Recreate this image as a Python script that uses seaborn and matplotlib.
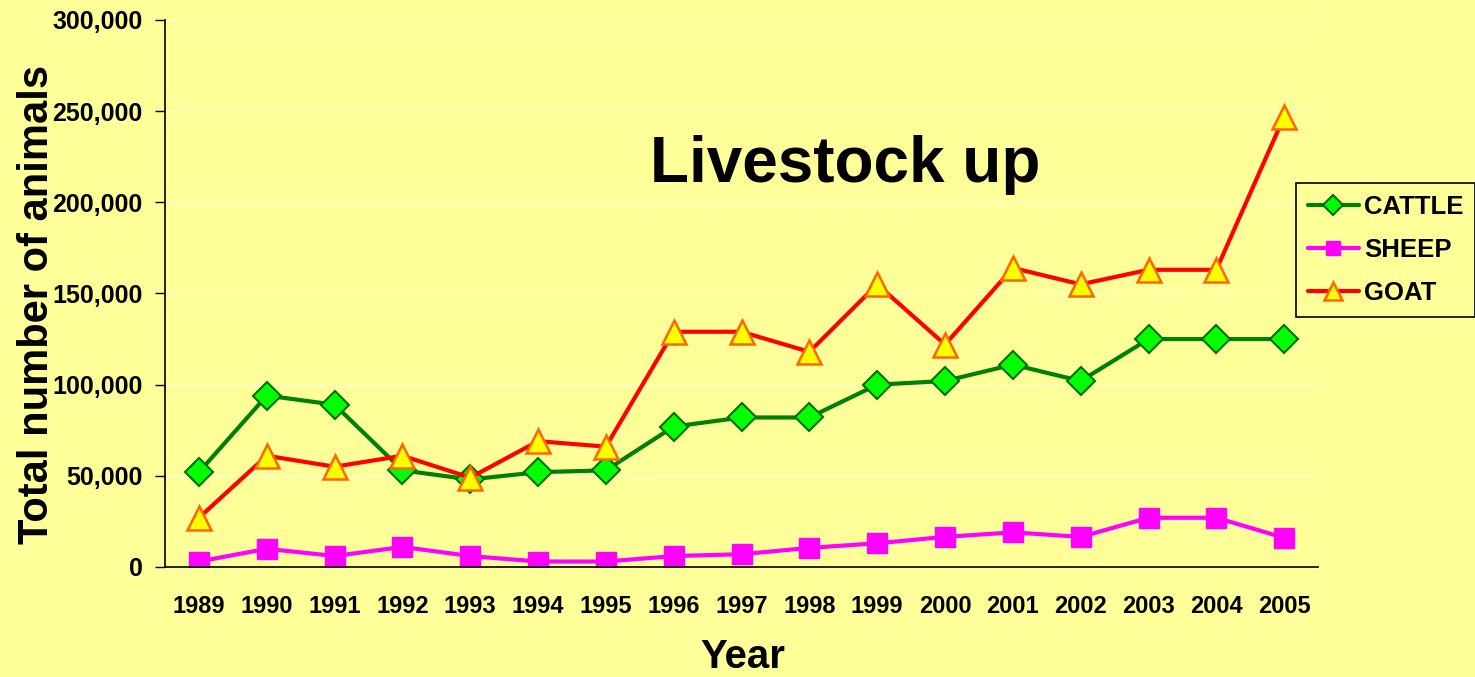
import matplotlib
matplotlib.use("Agg")
import matplotlib.pyplot as plt
import matplotlib.ticker as mticker
import numpy as np
import pandas as pd
import seaborn as sns

sns.set_style('white')
plt.rcParams['font.family'] = ['Liberation Sans', 'DejaVu Sans']
plt.rcParams['font.weight'] = 'bold'
plt.rcParams['text.color'] = 'black'
plt.rcParams['axes.labelcolor'] = 'black'
plt.rcParams['xtick.color'] = 'black'
plt.rcParams['ytick.color'] = 'black'

years = ['1989', '1990', '1991', '1992', '1993', '1994', '1995', '1996', '1997',
         '1998', '1999', '2000', '2001', '2002', '2003', '2004', '2005']
cattle = [52000, 94000, 89000, 53000, 48000, 52000, 53000, 77000, 82000,
          82000, 100000, 102000, 111000, 102000, 125000, 125000, 125000]
sheep = [3000, 10000, 6000, 11000, 6000, 3000, 3000, 6000, 7000,
         10500, 13000, 16500, 19000, 16500, 27000, 27000, 16000]
goat = [27000, 61000, 55000, 61000, 49000, 69000, 66000, 129000, 129000,
        118000, 155000, 122000, 164000, 155000, 163000, 163000, 247000]

df = pd.DataFrame({'Year': years, 'CATTLE': cattle, 'SHEEP': sheep, 'GOAT': goat})

bg = '#FFFF99'
fig = plt.figure(figsize=(14.75, 6.77), dpi=100, facecolor=bg)
ax = fig.add_axes([0.1119, 0.1625, 0.7817, 0.808])
ax.set_facecolor(bg)

styles = {
    'CATTLE': dict(color='#008000', marker='D', markersize=14, markerfacecolor='#00FF00',
                   markeredgecolor='#007000', markeredgewidth=1.5),
    'SHEEP': dict(color='#FF00FF', marker='s', markersize=14, markerfacecolor='#FF00FF',
                  markeredgecolor='#FF00FF', markeredgewidth=1),
    'GOAT': dict(color='#FF0000', marker='^', markersize=17, markerfacecolor='#FFFF00',
                 markeredgecolor='#FF6600', markeredgewidth=1.8),
}
for name, st in styles.items():
    sns.lineplot(data=df, x='Year', y=name, ax=ax, label=name, linewidth=3, **st)

ax.set_xlim(-0.5, len(years) - 0.5)
ax.set_ylim(0, 300000)
ax.yaxis.set_major_locator(mticker.MultipleLocator(50000))
ax.yaxis.set_major_formatter(mticker.FuncFormatter(lambda v, p: f'{int(v):,}'))
ax.grid(axis='y', color='#FFFFD0', linewidth=1.0)
ax.grid(axis='x', visible=False)

ax.set_xticks(np.arange(len(years)))
ax.set_xticklabels(years)
ax.set_xticks(np.arange(-0.5, len(years)), minor=True)
ax.tick_params(axis='x', which='major', length=0, pad=20, labelsize=17)
ax.tick_params(axis='x', which='minor', length=8, width=1, direction='out', color='black')
ax.tick_params(axis='y', which='major', length=7, width=1, direction='out', labelsize=18, pad=9, left=True)

for s in ['top', 'right']:
    ax.spines[s].set_visible(False)
for s in ['left', 'bottom']:
    ax.spines[s].set_color('black')
    ax.spines[s].set_linewidth(1.2)

ax.set_ylabel('Total number of animals', fontsize=30, fontweight='bold', va='center')
ax.yaxis.set_label_coords(-0.111, 0.48)
ax.set_xlabel('Year', fontsize=29, fontweight='bold', va='center')
ax.xaxis.set_label_coords(0.501, -0.165)

fig.text(845 / 1475, 1 - 165 / 677, 'Livestock up', fontsize=46, fontweight='bold',
         ha='center', va='center')

ax.get_legend().remove()
handles, labels = ax.get_legend_handles_labels()
leg = fig.legend(handles, labels, loc='upper left', bbox_to_anchor=(1296 / 1475, 1 - 183 / 677),
                 borderaxespad=0, fancybox=False, framealpha=1, facecolor=bg,
                 edgecolor='black', fontsize=18.5, handlelength=2.0, labelspacing=0.75,
                 handletextpad=0.2, borderpad=0.45, markerscale=0.75)
leg.get_frame().set_linewidth(1.2)

fig.savefig('out.png', dpi=100, facecolor=bg)
